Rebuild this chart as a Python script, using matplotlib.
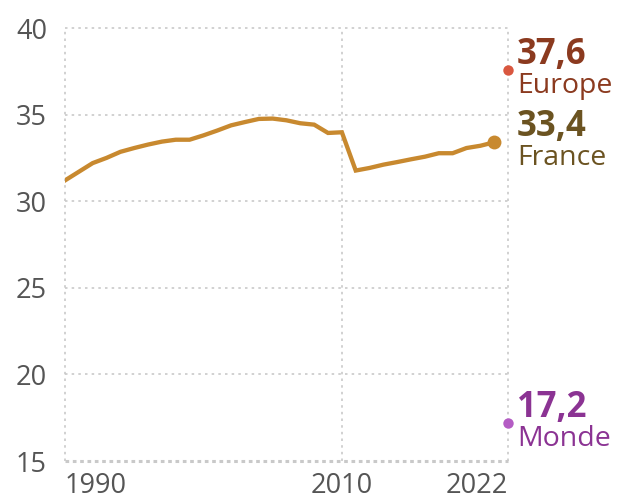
import numpy as np
import matplotlib
matplotlib.use('Agg')
import matplotlib.pyplot as plt

plt.rcParams['font.family'] = ['Open Sans', 'DejaVu Sans']

# France series, 1990-2021
years = list(range(1990, 2022))
france = [31.2, 31.7, 32.2, 32.5, 32.85, 33.07, 33.27, 33.44, 33.55, 33.55,
          33.8, 34.08, 34.38, 34.57, 34.75, 34.77, 34.67, 34.5, 34.42, 33.94,
          33.98, 31.77, 31.92, 32.11, 32.26, 32.42, 32.57, 32.77, 32.77, 33.07,
          33.2, 33.4]

# end values
labels = ["Europe", "France", "Monde"]
values = [37.6, 33.4, 17.2]
label_years = [2022, 2021, 2022]
val_texts = ["37,6", "33,4", "17,2"]

xticks = [1990, 2010, 2022]
yticks = [15, 20, 25, 30, 35, 40]

line_col = '#C8892F'
dot_cols = ['#D9573F', line_col, '#B45CC4']
txt_cols = ['#8B3A1F', '#6B5321', '#8B3393']
dot_sizes = [7.5, 10, 7.5]

fig = plt.figure(figsize=(6.21, 5.01), dpi=100)
ax = fig.add_axes([65/621, 1-461/501, (508-65)/621, (461-28)/501])

ax.set_xlim(1990, 2022)
ax.set_ylim(15, 40)

grid_col = '#C9C9C9'
for y in yticks:
    if y == 15:
        ax.axhline(y, color=grid_col, lw=2.2, ls=(0, (1.2, 1.2)), zorder=1, clip_on=False)
    else:
        ax.axhline(y, color=grid_col, lw=1.2, ls=(0, (1.5, 2.5)), zorder=1, clip_on=False)
for x in xticks:
    ax.axvline(x, color=grid_col, lw=1.2, ls=(0, (1.5, 2.5)), zorder=1, clip_on=False)

for s in ax.spines.values():
    s.set_visible(False)

ax.plot(years, france, color=line_col, lw=3.1, solid_joinstyle='miter', zorder=3)

for i in range(3):
    ax.plot(label_years[i], values[i], 'o', color=dot_cols[i], ms=dot_sizes[i],
            mec='none', clip_on=False, zorder=4)
    ax.annotate(val_texts[i], (2022, values[i]), xytext=(9, 6),
                textcoords='offset pixels', ha='left', va='baseline',
                fontsize=25, fontweight='bold', color=txt_cols[i],
                annotation_clip=False)
    ax.annotate(labels[i], (2022, values[i]), xytext=(9, -23),
                textcoords='offset pixels', ha='left', va='baseline',
                fontsize=20.5, color=txt_cols[i], annotation_clip=False)

ax.set_yticks(yticks)
ax.set_yticklabels([str(y) for y in yticks])
ax.set_xticks(xticks)
ax.set_xticklabels([str(x) for x in xticks])
ax.tick_params(axis='both', length=0, labelsize=19.5, labelcolor='#555555')
ax.tick_params(axis='y', pad=13)
ax.tick_params(axis='x', pad=8)
xl = ax.get_xticklabels()
xl[0].set_ha('left')
xl[2].set_ha('right')

fig.savefig('out.png', dpi=100)
